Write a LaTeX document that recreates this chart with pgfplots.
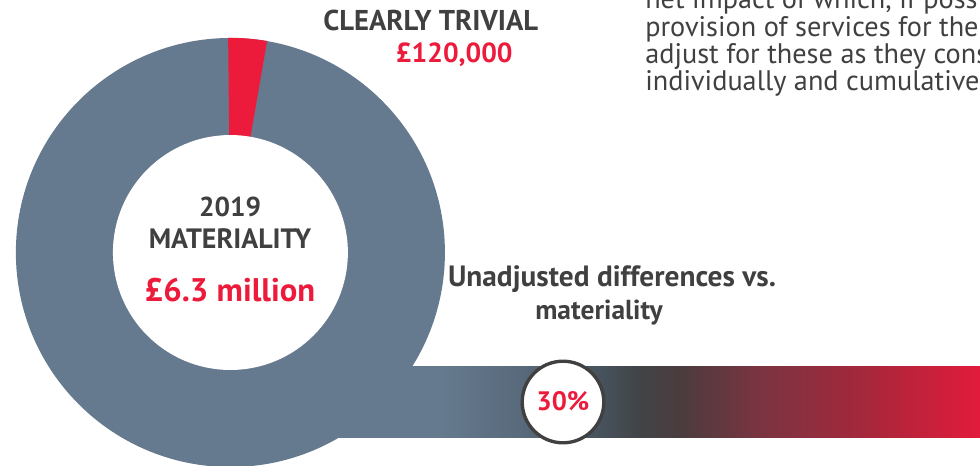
\documentclass[border=0pt]{standalone}
\usepackage{pgfplots}
\pgfplotsset{compat=1.18}
\usepackage{fontspec}
\setmainfont{PT Sans}
\definecolor{slate}{RGB}{102,122,143}
\definecolor{hot}{RGB}{236,26,59}
\definecolor{ink}{RGB}{64,64,64}
\definecolor{g0}{RGB}{103,123,144}
\definecolor{g1}{RGB}{102,122,143}
\definecolor{g2}{RGB}{88,106,123}
\definecolor{g3}{RGB}{71,82,92}
\definecolor{g4}{RGB}{65,68,71}
\definecolor{g5}{RGB}{75,60,62}
\definecolor{g6}{RGB}{122,52,65}
\definecolor{g7}{RGB}{163,40,59}
\definecolor{g8}{RGB}{226,27,59}
\pgfdeclarehorizontalshading{bargrad}{100bp}{color(0bp)=(g0); color(25bp)=(g0); color(39bp)=(g1); color(44.33bp)=(g2); color(49.67bp)=(g3); color(52.33bp)=(g4); color(55bp)=(g5); color(60.33bp)=(g6); color(67bp)=(g7); color(75bp)=(g8); color(100bp)=(g8)}
\newcommand{\fs}[1]{\fontsize{#1}{1.2\dimexpr#1\relax}\selectfont}
% donut data (percent of circle) and start angle
\def\trivialpct{2.9}
\def\startang{90.6}
\begin{document}
\begin{tikzpicture}
\useasboundingbox (0,0) rectangle (735pt,348.75pt);
\clip (0,0) rectangle (735pt,348.75pt);
\begin{axis}[hide axis, scale only axis, width=735pt, height=348.75pt,
  xmin=0, xmax=980, ymin=0, ymax=465, y dir=reverse, clip=false]
% gradient bar
\addplot[draw=none, shading=bargrad] coordinates {(230,366) (980,366) (980,437.3) (230,437.3) (230,366)};
% donut
\fill[slate] (axis cs:230.4,252.5) circle[radius=160.9pt];
\pgfmathsetmacro{\endang}{\startang-3.6*\trivialpct}
\fill[hot] (axis cs:230.4,252.5) -- ++(\startang:161pt) arc[start angle=\startang, end angle=\endang, radius=161pt] -- cycle;
\fill[white] (axis cs:230.4,252.5) circle[radius=88.1pt];
% marker with its label
\addplot[only marks, mark=*, mark size=30.6pt, mark options={fill=white, draw=ink, line width=2.5pt},
  nodes near coords={30\%}, nodes near coords align={center},
  every node near coord/.append style={anchor=center, text=hot, font=\bfseries\fs{20pt}, yshift=0.5pt}]
  coordinates {(563,402)};
% texts
\node[anchor=base, font=\bfseries\fs{21.5pt}, text=ink] at (axis cs:430.7,30.7) {CLEARLY TRIVIAL};
\node[anchor=base, font=\bfseries\fs{20.7pt}, text=hot] at (axis cs:454.3,62.7) {£120,000};
\node[anchor=base, font=\bfseries\fs{20.5pt}, text=ink] at (axis cs:230,216.7) {2019};
\node[anchor=base, font=\bfseries\fs{21pt}, text=ink] at (axis cs:230,248.3) {MATERIALITY};
\node[anchor=base, font=\bfseries\fs{24.5pt}, text=hot] at (axis cs:230,301.7) {£6.3 million};
\node[anchor=base, font=\bfseries\fs{22pt}, text=ink, inner sep=0pt] at (axis cs:612,286.7) {Unadjusted differences vs.};
\node[anchor=base, font=\bfseries\fs{20.6pt}, text=ink, inner sep=0pt] at (axis cs:599,319) {materiality};
\node[anchor=base west, font=\fs{21.2pt}, text=ink, inner sep=0pt] at (axis cs:645,8.7) {net impact of which, if possible, are};
\node[anchor=base west, font=\fs{21.2pt}, text=ink, inner sep=0pt] at (axis cs:645,36) {provision of services for the year};
\node[anchor=base west, font=\fs{21.2pt}, text=ink, inner sep=0pt] at (axis cs:645,63.3) {adjust for these as they consider};
\node[anchor=base west, font=\fs{21.2pt}, text=ink, inner sep=0pt] at (axis cs:645,90.7) {individually and cumulatively};
\end{axis}
\end{tikzpicture}
\end{document}
